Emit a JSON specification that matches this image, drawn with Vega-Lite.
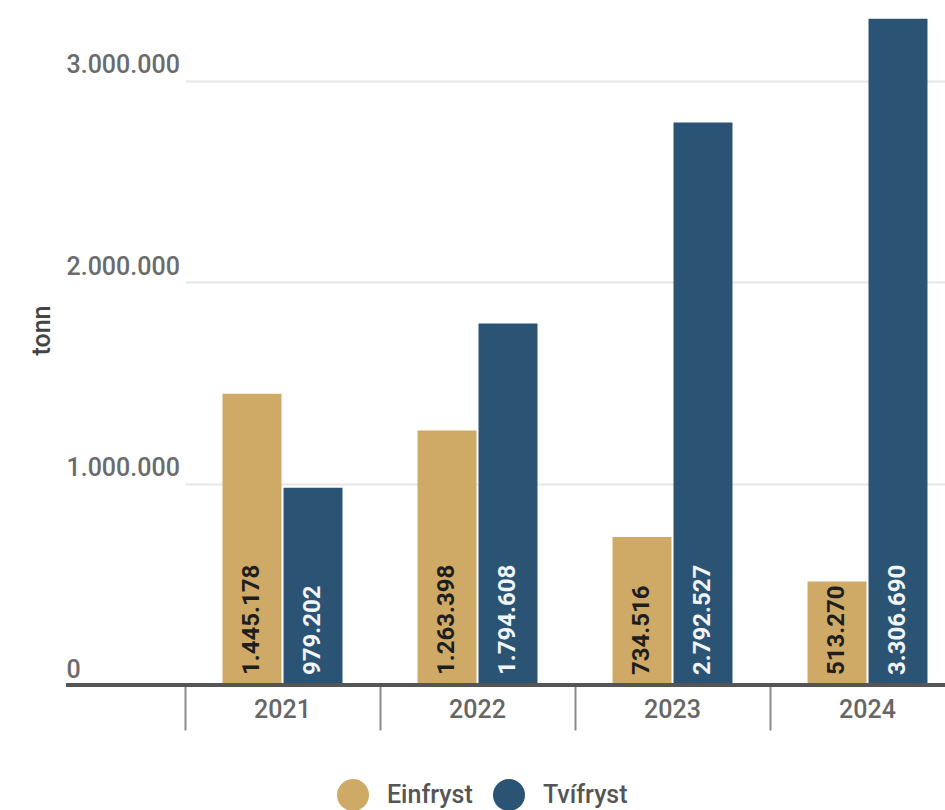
{
  "$schema": "https://vega.github.io/schema/vega-lite/v6.json",
  "autosize": {"type": "none"},
  "padding": {"left": 65, "top": 0, "right": 0, "bottom": 125},
  "width": 880,
  "height": 685,
  "background": "white",
  "config": {
    "locale": {"number": {"decimal": ",", "thousands": ".", "grouping": [3], "currency": ["", ""]}},
    "font": "Roboto",
    "view": {"stroke": null}
  },
  "data": {
    "values": [
      {"year": "2021", "series": "Einfryst", "tonn": 1445178},
      {"year": "2021", "series": "Tvífryst", "tonn": 979202},
      {"year": "2022", "series": "Einfryst", "tonn": 1263398},
      {"year": "2022", "series": "Tvífryst", "tonn": 1794608},
      {"year": "2023", "series": "Einfryst", "tonn": 734516},
      {"year": "2023", "series": "Tvífryst", "tonn": 2792527},
      {"year": "2024", "series": "Einfryst", "tonn": 513270},
      {"year": "2024", "series": "Tvífryst", "tonn": 3306690}
    ]
  },
  "encoding": {
    "y": {
      "field": "tonn", "type": "quantitative",
      "scale": {"domain": [0, 3400000], "nice": false},
      "axis": {
        "title": "tonn", "titleFontSize": 25, "titleFontWeight": 500, "titleColor": "#444444",
        "titleX": -24, "titleY": 330, "titleAngle": -90, "titleAlign": "center", "titleBaseline": "middle",
        "values": [0, 1000000, 2000000, 3000000], "format": ",d",
        "domain": false, "ticks": false, "grid": true, "gridColor": "#e6e6e6", "gridWidth": 2,
        "labelAlign": "left", "labelBaseline": "alphabetic", "labelPadding": -1, "labelOffset": -8,
        "labelFontSize": 25, "labelFontWeight": 500, "labelColor": "#6b6b6b"
      }
    }
  },
  "layer": [
    {
      "mark": {"type": "bar"},
      "encoding": {
        "x": {
          "field": "year", "type": "nominal",
          "scale": {"range": [120, 900], "paddingInner": 0, "paddingOuter": 0},
          "axis": {
            "title": null, "domain": false, "grid": false,
            "bandPosition": 0, "ticks": true, "tickSize": 45, "tickWidth": 2, "tickColor": "#8a8a8a",
            "labelAngle": 0, "labelPadding": -33, "labelFontSize": 25, "labelFontWeight": 500,
            "labelColor": "#666666", "labelBaseline": "top"
          }
        },
        "xOffset": {"field": "series", "type": "nominal", "scale": {"paddingInner": 0.033, "paddingOuter": 0.615}},
        "color": {
          "field": "series", "type": "nominal",
          "scale": {"domain": ["Einfryst", "Tvífryst"], "range": ["#cfaa66", "#2b5474"]},
          "legend": {
            "title": null, "orient": "none", "legendX": 272, "legendY": 779, "direction": "horizontal",
            "symbolType": "circle", "symbolSize": 1024, "symbolStrokeWidth": 0,
            "labelFontSize": 25, "labelFontWeight": 500, "labelColor": "#555555",
            "labelOffset": 18, "columnPadding": 20
          }
        }
      }
    },
    {
      "mark": {"type": "text", "angle": 270, "align": "left", "baseline": "middle", "dx": 10, "fontSize": 24, "fontWeight": "bold"},
      "encoding": {
        "x": {"field": "year", "type": "nominal"},
        "xOffset": {"field": "series", "type": "nominal"},
        "y": {"datum": 0},
        "text": {"field": "tonn", "type": "quantitative", "format": ",d"},
        "color": {"condition": {"test": "datum.series === 'Einfryst'", "value": "#1e1e1e"}, "value": "#f2f5f8"}
      }
    },
    {
      "mark": {"type": "rule", "color": "#555555", "strokeWidth": 4},
      "encoding": {"y": {"datum": 0}, "x": {"value": 1}, "x2": {"value": 880}}
    }
  ]
}
